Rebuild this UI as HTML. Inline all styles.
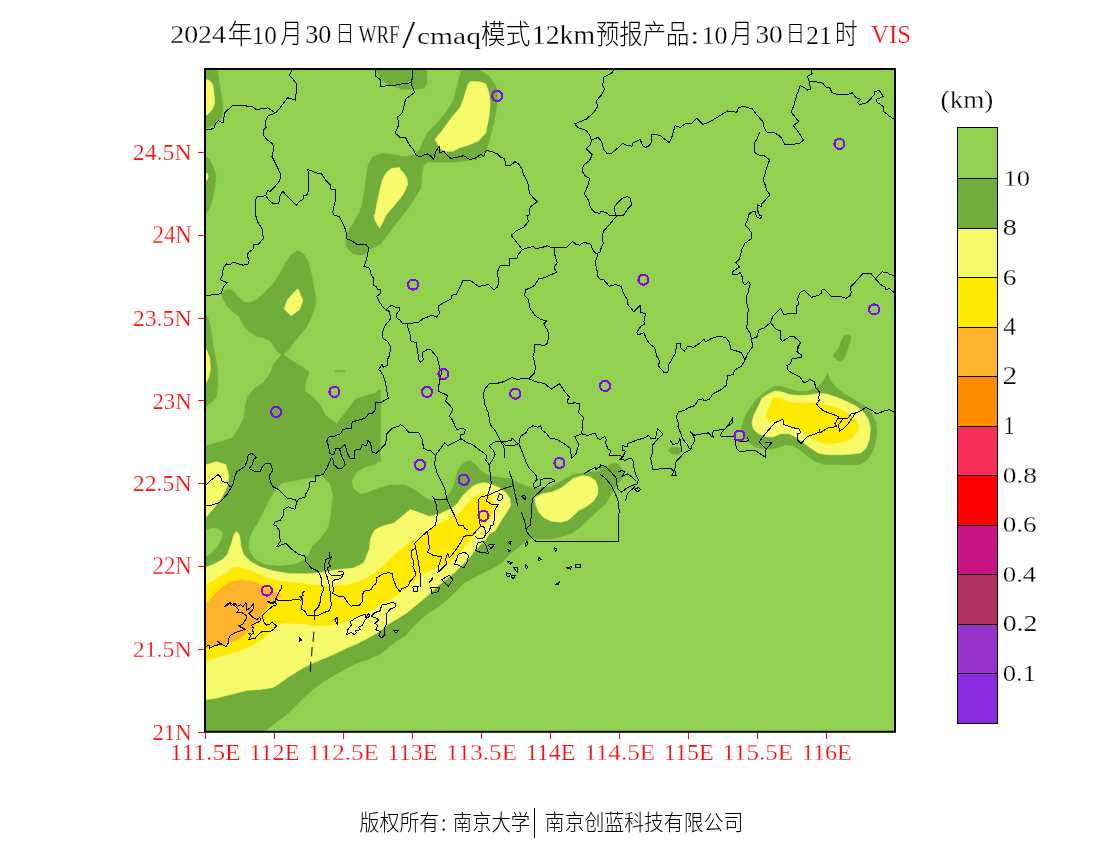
<!DOCTYPE html>
<html><head><meta charset="utf-8"><title>2024年10月30日WRF/cmaq模式12km预报产品:10月30日21时 VIS</title>
<style>
html,body{margin:0;padding:0;background:#fff;}
body{width:1100px;height:850px;overflow:hidden;}
svg{display:block;}
text{font-family:"Liberation Serif","Noto Serif CJK SC",serif;}
.cjk{font-family:"Liberation Sans","Noto Sans CJK SC",sans-serif;font-weight:300;}
</style></head><body>
<svg width="1100" height="850" viewBox="0 0 1100 850">
<rect width="1100" height="850" fill="#fff"/>
<defs><clipPath id="mapclip"><rect x="205" y="69" width="690" height="662.8"/></clipPath></defs>

<g clip-path="url(#mapclip)">
<rect x="205" y="69" width="690" height="662.8" fill="#92D050"/>
<path d="M200,60 L217.3,67.3 L218.2,76.4 L220.1,87.3 L222.2,101.9 L222.8,109.2 L221.9,116.5 L217.3,122.9 L210.9,126.5 L205.5,127.8 L200,128Z" fill="#70AD3A" stroke="#70AD3A" stroke-width="0.6" stroke-linejoin="round"/>
<path d="M200,156 L205.5,156.3 L210,160.3 L214.2,169.4 L216,176.7 L214.6,187.6 L212.8,198.6 L209.1,209.5 L205.5,214.1 L200,214Z" fill="#70AD3A" stroke="#70AD3A" stroke-width="0.6" stroke-linejoin="round"/>
<path d="M200,313 L205.5,313.5 L208.2,318.9 L210.9,328 L212.4,342.6 L214.6,353.6 L216.8,364.5 L217.3,370 L217.9,384.6 L216.4,397.3 L210.9,402.8 L205.5,406.5 L200,407Z" fill="#70AD3A" stroke="#70AD3A" stroke-width="0.6" stroke-linejoin="round"/>
<path d="M375.9,67.3 L377.8,74.6 L382.3,80.1 L387.8,84.6 L400,88.3 L400,89.2 L414.6,89.2 L423.7,88.3 L427,83.7 L427,67.3Z" fill="#70AD3A" stroke="#70AD3A" stroke-width="0.6" stroke-linejoin="round"/>
<path d="M462,67.3 L480.2,70.6 L489.3,76.4 L495.7,85.5 L497.5,96.5 L496.6,107.4 L493.9,122 L490.2,136.6 L486.6,149.3 L483.9,156.6 L472.9,159.9 L454.7,162.1 L440.1,162.1 L427.3,162.1 L423.3,165.7 L421.5,176.7 L421,187.6 L415.5,196.7 L410.9,204 L405.5,211.3 L402.7,215 L400,218.6 L396.9,222.3 L391.4,229.6 L386,236.9 L380.5,244.2 L372.3,247.8 L368.6,250.6 L365,254.2 L358.6,255.1 L353.1,253.3 L348.6,249.6 L345.9,245.1 L346.2,238.7 L349.5,228.7 L354.1,222.3 L357.7,215 L358.6,215 L362.3,204 L365,187.6 L366.8,173 L368.6,163.9 L373.2,156.6 L382.3,153.7 L400,155.5 L400,156.6 L407.3,156.6 L414.6,154.8 L420.1,149.3 L422.8,142 L427.3,132.9 L436.5,123.8 L445.6,112.9 L452.9,101.9 L456.5,89.2 L459.3,78.2Z" fill="#70AD3A" stroke="#70AD3A" stroke-width="0.6" stroke-linejoin="round"/>
<path d="M297.5,250.6 L303.9,254.2 L308.5,262.4 L311.2,273.3 L313.9,287.9 L315.8,297 L315.2,306.2 L311.2,317.1 L306.7,327.1 L299.4,335.3 L293,343.5 L289.3,349 L283,354.5 L292.8,361 L303.7,367.9 L309.2,372 L305.1,382.9 L305.1,391.1 L311.9,396.5 L320.1,404.7 L325.6,415.6 L336.5,423.8 L347.4,410.2 L355.6,399.3 L363.8,396.5 L374.7,393.3 L380.2,389.2 L380.7,404.7 L380.2,462.1 L380.7,459.1 L374.7,464.6 L363.8,467.3 L355.6,472.8 L351.5,481 L352.9,489.1 L361.1,494.6 L369.3,491.9 L380.2,487.8 L391.1,485 L404.8,485 L415.7,490.5 L426.6,498.7 L434.8,501.4 L443,498.7 L451.2,491.9 L455.3,481 L458,470 L463.4,463.2 L470.3,460.5 L474.7,463.9 L480.2,470.3 L487.5,474.8 L498.5,477.6 L509.4,478.5 L518.5,483 L527.6,486.7 L538.6,488.5 L551.3,486.7 L564.1,479.4 L575,473.9 L584.1,473 L593.3,472.1 L600,471.2 L600,464.8 L607.3,466.6 L612.8,463 L618.2,463.9 L621.9,469.4 L623.7,475.7 L620.1,481.2 L615.5,486.7 L610.9,494 L607.3,501.3 L603.6,505.8 L600,508.6 L582.3,525 L578.7,528.6 L571.4,533.2 L560.4,536.9 L549.5,538.7 L538.6,538.7 L531.3,537.8 L525.8,541.4 L518.5,546.9 L509.4,554.2 L502.1,562.4 L494.8,566.9 L483.9,572.4 L472.9,577.9 L463.8,583.3 L458.3,588.8 L451,596.1 L440.1,605.2 L429.2,612.5 L420.1,619.8 L412.8,627.1 L405.5,635.3 L396.9,640.7 L389.6,646.5 L378.7,654.7 L367.7,659.3 L356.8,662.9 L345.9,668.4 L334.9,674.8 L324,681.2 L313,689.4 L305.7,695.7 L298.5,703 L289.3,712.2 L280.2,719.4 L271.1,725.8 L262.9,734 L200,740 L200,446 L206.8,445.7 L210.9,444.3 L221.8,441.6 L232.8,437.5 L238.2,429.3 L243.7,418.4 L245,407.5 L247.8,396.5 L254.6,388.3 L262.8,382.9 L269.6,374.7 L273.7,363.8 L281.9,354.2 L277.5,351.7 L273.8,346.3 L270.2,340.8 L263.8,338.1 L256.5,336.2 L249.2,331.7 L243.8,326.2 L239.2,316.2 L232.8,311.6 L227.3,306.2 L222.8,298.9 L221.9,294.3 L224.6,290.7 L229.2,289.4 L233.7,291.6 L238.3,297 L243.8,302.1 L249.2,302.9 L256.5,299.8 L263.8,293.4 L272.9,284.3 L280.2,273.3 L285.7,262.4 L291.2,255.1Z" fill="#70AD3A" stroke="#70AD3A" stroke-width="0.6" stroke-linejoin="round"/>
<path d="M827.6,372.7 L829.4,379.1 L834.9,386.4 L844,393.7 L854.9,400.1 L864,405.6 L871.3,412.8 L875.9,422.9 L876.8,433.8 L875,444.7 L871.3,453.9 L865.9,461.2 L858.6,464.4 L847.6,464.8 L836.7,464.4 L823.9,464.4 L814.8,461.2 L807.5,455.7 L800.2,450.2 L792.9,445.7 L785.6,444.7 L778.3,447.5 L771,449.3 L761.9,448.4 L754.6,446.6 L747.3,441.1 L742.8,433.8 L741.9,426.5 L744.6,417.4 L750.1,408.3 L756.5,399.2 L765.6,391.9 L774.7,386 L782,386.4 L789.3,389.1 L798.4,391.5 L807.5,391 L816.6,388.2 L822.1,382.8 L825.7,377.3Z" fill="#70AD3A" stroke="#70AD3A" stroke-width="0.6" stroke-linejoin="round"/>
<path d="M844,335 L849.4,335.3 L850.9,337.5 L849.4,344.4 L846.7,351.7 L844,359 L841.2,361.2 L836.7,359.9 L833.4,356.3 L833.9,353.9 L837.6,349.9 L840.3,344.4 L842.5,339Z" fill="#70AD3A" stroke="#70AD3A" stroke-width="0.6" stroke-linejoin="round"/>
<path d="M668.4,450.2 L672,447.5 L678.4,447.5 L681.1,451.1 L678.4,454.2 L671.1,453.5Z" fill="#70AD3A" stroke="#70AD3A" stroke-width="0.6" stroke-linejoin="round"/>
<path d="M335,370.6 L345,370.6 L345,371.6 L335,371.6Z" fill="#70AD3A" stroke="#70AD3A" stroke-width="0.6" stroke-linejoin="round"/>
<path d="M200,530.4 L205.6,530.4 L211.3,528.5 L217,528.5 L220.5,530.5 L222.6,533.5 L220.7,539.8 L217.9,545.5 L213.2,551.1 L208.5,554.9 L205.6,555.8 L200,555.8Z" fill="#92D050" stroke="#92D050" stroke-width="0.6" stroke-linejoin="round"/>
<path d="M281.9,483.7 L295.6,481 L309.2,478.2 L322.9,476.9 L329.7,483.7 L332.4,494.6 L331,511 L328.3,527.4 L320.1,538.3 L311.9,546.5 L307.8,554.7 L303.7,560.1 L292.8,564.2 L279.2,565.6 L265.5,564.2 L254.6,558.8 L249.1,549.2 L249.1,541 L253.2,530.1 L258.7,521.9 L264.2,511 L271,497.3 L276.4,489.1Z" fill="#92D050" stroke="#92D050" stroke-width="0.6" stroke-linejoin="round"/>
<path d="M200,79 L205.5,79.7 L209.1,80.1 L212.8,84.6 L214.2,94.6 L214.6,103.8 L211.9,110.1 L207.3,114.7 L205.5,115.2 L200,115Z" fill="#F5F96A" stroke="#F5F96A" stroke-width="0.6" stroke-linejoin="round"/>
<path d="M200,172 L205.5,172.7 L207.7,173.9 L208.2,176.7 L206.9,180.3 L205.5,181.2 L200,181Z" fill="#F5F96A" stroke="#F5F96A" stroke-width="0.6" stroke-linejoin="round"/>
<path d="M200,349 L206.8,350.1 L209.6,358.3 L210.4,369.2 L208.7,377.4 L206.8,381.5 L200,381Z" fill="#F5F96A" stroke="#F5F96A" stroke-width="0.6" stroke-linejoin="round"/>
<path d="M470.2,81.5 L480.2,81.9 L485.7,83.7 L488.4,91 L490.2,101.9 L489.3,114.7 L485.7,132.9 L478.4,141.1 L469.3,144.8 L460.2,147.5 L452.9,151.2 L445.6,151.2 L441,149.3 L437.4,143.9 L435,139.3 L441.9,131.1 L451,118.3 L460.2,107.4 L463.8,98.3 L466.5,89.2 L468.4,83.7Z" fill="#F5F96A" stroke="#F5F96A" stroke-width="0.6" stroke-linejoin="round"/>
<path d="M400,167.6 L391.4,168.5 L386,173 L382.3,180.3 L379.6,191.3 L376.8,204 L375,215 L374.1,215 L375,220.5 L379.6,227.8 L383.2,221.4 L386,215 L400,198.6 L402.7,194.9 L405.5,189.4 L407.7,184 L406.9,178.5 L403.6,173 L400,169.4Z" fill="#F5F96A" stroke="#F5F96A" stroke-width="0.6" stroke-linejoin="round"/>
<path d="M297.9,288.8 L300.3,294.3 L303,300.7 L299.4,309.8 L291.2,315.8 L284.2,308.9 L287.5,299.8 L293,293.4Z" fill="#F5F96A" stroke="#F5F96A" stroke-width="0.6" stroke-linejoin="round"/>
<path d="M200,462 L206.8,464.6 L216.4,461.8 L225.9,464.6 L228.7,475.5 L227.3,486.4 L221.8,497.3 L213.7,508.3 L206.8,516.4 L200,516Z" fill="#F5F96A" stroke="#F5F96A" stroke-width="0.6" stroke-linejoin="round"/>
<path d="M200,567 L206.8,566.9 L213.7,564.2 L221.8,560.1 L227.3,554.7 L231.4,543.7 L234.1,534.2 L236.9,531.5 L239.6,535.6 L241,546.5 L243.7,554.7 L250.5,561.5 L260.1,566.9 L273.7,571 L290.1,573.8 L309.2,573.8 L322.9,572.4 L336.5,569.7 L352.9,568.3 L363.8,562.9 L369.3,549.2 L370.6,538.3 L374.7,530.1 L382.9,526 L393.8,523.3 L402,516.4 L410.2,509.6 L418.4,512.3 L429.3,516.4 L440.2,513.7 L451.2,508.3 L455,505.8 L458.5,502.3 L462.1,496.4 L468,490.5 L472.7,486.3 L478.6,483.4 L485.7,482.8 L492.8,485.1 L499.9,488.1 L505.8,492.8 L510,498.7 L510.6,505.8 L507,511.7 L502.3,518.8 L498.7,524.7 L495.2,530.7 L489.3,534.1 L485.7,539.6 L480.2,545.1 L474.7,550.5 L469.3,557.8 L462,565.1 L454.7,572.4 L445.6,579.7 L436.5,587 L429.2,594.3 L418.2,603.4 L407.3,612.5 L395.1,620.1 L387.8,624.6 L378.7,631.9 L367.7,638.3 L356.8,643.8 L345.9,648.3 L334.9,653.8 L324,658.4 L313,662.9 L303.9,667.5 L294.8,673 L287.5,677.5 L280.2,683 L272.9,687.5 L260.2,689.4 L247.4,690.3 L236.5,693 L225.5,695.7 L214.6,698.5 L205.5,699.4 L200,699Z" fill="#F5F96A" stroke="#F5F96A" stroke-width="0.6" stroke-linejoin="round"/>
<path d="M534.9,497.6 L542.2,494 L551.3,492.2 L560.4,488.5 L567.7,483 L573.2,478.5 L582.3,475.7 L589.6,476.7 L595.1,480.3 L597.8,486.7 L597.8,494 L593.3,501.3 L586,506.7 L578.7,510.4 L573.2,515.9 L567.7,520.4 L560.4,522.2 L551.3,521.3 L544,517.7 L538.6,512.2 L535.8,504.9Z" fill="#F5F96A" stroke="#F5F96A" stroke-width="0.6" stroke-linejoin="round"/>
<path d="M774.7,391 L782,391.9 L789.3,394.6 L798.4,395.5 L807.5,395.2 L816.6,393.7 L825.7,393.7 L836.7,397.3 L847.6,401.9 L856.7,406.5 L864,412.8 L868.6,420.1 L870.4,428.3 L869.5,439.3 L865.9,448.4 L860.4,453 L851.3,454.2 L840.3,454.8 L829.4,454.8 L819.4,453.5 L811.2,448.4 L803.9,442.9 L796.6,437.5 L789.3,433.8 L780.2,433.8 L772.9,437.1 L765.6,436.5 L758.3,433.8 L753.7,429.3 L751.9,422.9 L753.7,415.6 L758.3,406.5 L761.9,398.3 L767.4,394.6Z" fill="#F5F96A" stroke="#F5F96A" stroke-width="0.6" stroke-linejoin="round"/>
<path d="M200,586 L205.5,586.1 L210.9,582.4 L218.2,577.9 L227.3,572.4 L232.8,567.8 L238.3,566.9 L247.4,569.7 L258.3,574.2 L269.3,578.8 L280.2,581.5 L291.2,582.4 L302.1,583.3 L313,585.2 L324,586.1 L334.9,586.1 L345.9,585.2 L356.8,582.4 L367.7,577.9 L378.7,570.6 L387.8,561.5 L395.1,554.2 L400,550.5 L405.5,546 L411.4,542.3 L416.5,538.7 L423.8,534.3 L431,529.9 L438.3,524.8 L445.6,520.4 L452.9,516.8 L458.5,514.5 L462.1,510.6 L466.8,504.6 L472.7,498.7 L478.6,495.2 L484.6,493.4 L489.3,495.8 L492.8,501.1 L494.6,507 L492.8,512.9 L489.3,518.8 L483.9,525.5 L476.4,531 L471.7,537.5 L466.8,543.7 L462.2,550.3 L455.1,557.4 L448,563.3 L437.5,566.5 L423.9,573.8 L410.2,584.7 L396.6,595.6 L382.9,603.8 L369.3,610.6 L355.6,617.5 L342,622.9 L328.3,625.6 L314.7,625.6 L301,623.5 L283.9,622.8 L276.6,625.6 L269.3,631.9 L262,639.2 L252.9,644.7 L240.1,650.2 L229.2,653.8 L218.2,656.5 L210.9,659.3 L205.5,663.8 L200,664Z" fill="#FFE900" stroke="#FFE900" stroke-width="0.6" stroke-linejoin="round"/>
<path d="M772.9,397.7 L782,398.8 L789.3,402.8 L798.4,403.2 L807.5,402.5 L818.5,403.7 L829.4,405.6 L840.3,409.2 L849.4,414.7 L855.8,420.1 L858.9,426.5 L856.7,432.9 L851.3,438.4 L844,442 L833,443.5 L822.1,442.9 L814.8,439.3 L807.5,434.7 L800.2,430.2 L792.9,425.6 L785.6,422.9 L778.3,422 L771,421 L766.5,417.4 L767.8,411 L771,403.7Z" fill="#FFE900" stroke="#FFE900" stroke-width="0.6" stroke-linejoin="round"/>
<path d="M200,604 L206.8,603.8 L213.7,595.6 L221.8,587.4 L230,582 L241,579.8 L251.9,581.4 L262.8,586.1 L273.7,591.5 L281.9,595.6 L276.4,598.3 L269.6,603.8 L264.2,612 L258.7,620.2 L251.9,628.4 L243.7,635.2 L235.5,640.7 L227.3,643.4 L216.4,645.3 L206.8,647.5 L200,647Z" fill="#FFB22B" stroke="#FFB22B" stroke-width="0.6" stroke-linejoin="round"/>
<path d="M292.6,68.2 L289.3,75.5 L293,79.1 L296.6,83.7 L295.7,100.1 L287.5,97.7 L281.1,106.5 L275.7,112.9M275.7,112.9 L267.5,107.8 L262.9,108.9 L255.6,109.2 L252.9,107 L243.8,105.6 L232.8,105.2 L224.6,112.9 L223.3,122.9 L218.2,120.5 L215.5,123.8 L213.7,128.9 L205.5,129.3M275.7,112.9 L268.4,115.6 L265.6,121.1 L266,127.5 L263.4,130.2 L263.8,135.7 L266.5,139.3 L272.9,143.9 L273.5,149.3 L272,156.6 L276.6,165.7 L281.1,174.9 L279.3,181.2 L274.7,186.7 L270.2,191.3 L267.5,190.4 L265.6,195.8M265.6,195.8 L256.5,197.1 L255.6,200.4 L255.6,215 L255.6,215 L257.4,221.4 L262,228.7 L263.4,238.7 L258.3,244.2 L253.8,244.2 L253.8,248.7 L248.3,252.4 L247.4,256 L249.2,260.6 L247.8,264.6 L242.8,265.1 L232.8,262 L230.1,265.1 L226.4,263.9 L223.3,267.9 L222.2,275.2 L220.4,279.7 L227.3,282.8 L223.3,287 L221,293.8 L205.5,295.6M265.6,195.8 L269.3,200.4 L272.9,203.5 L278.9,203.1 L280.2,194.9 L283,191.3 L287.5,196.7 L296.3,205.3 L299.4,201.3 L303,199.5 L303.6,195.3 L307.6,194.9 L309,185.8 L307.9,169.4 L316.7,173 L321.2,173.4 L325.8,180.3 L330.4,184.9 L330.9,189.1 L335.5,189.4 L335.8,198.6 L334,205.9 L332.7,212.2 L334,215 L334,215 L339.5,216.8 L342.2,222.3 L345.9,230.5 L346.8,239.1 L351.3,240.5 L356.8,244.2 L365.9,244.5 L368.6,247.8 L367.4,256 L365.5,262.8 L363.7,266.4 L369.6,268.2 L371.4,275.2 L373.2,277.9 L373.2,285.2 L376.5,287 L377.8,289.7 L380.5,289.4 L380.1,293.8 L376.8,296.1 L378.7,300.7 L382.3,306.2 L386,309.8M375,68.2 L375.9,76.4 L380.5,79.7 L380.5,86.4 L391.4,85.5 L400,84.6 L400,84.1 L410.9,82.8 L412.8,77.3 L412.4,68.2M410.9,82.8 L411.9,85.5 L414.6,92.5 L405.5,99.2 L404,106.5 L402.2,112.9 L400,115.2 L397.8,116.9 L398.4,125.6 L395.1,132.9 L400,137.5 L400,137.5 L405.5,137.5 L408.2,143 L413.7,150.2 L416.4,155.7 L420.1,156.6 L427.3,153.9 L430.1,155.7 L433.7,159.4 L435.6,151.2 L439.2,146.6 L439.7,153 L443.8,151.2 L447.4,155.7 L451,158.5 L460.2,156.6 L463.8,155.7 L469.3,159.4 L474.7,158.5 L481.1,154.4 L483.9,156.6 L485.7,151.2 L487.5,150.6 L493,152.1 L497.5,153.9 L501.2,157.5 L504.8,158.5 L505.4,165.7 L510.3,165.7 L514.9,161.7 L518.5,163.9 L522.2,169.4 L523.1,173.9 L526.7,180.3 L528.5,185.8 L529.4,193.1 L533.1,197.6 L537.3,201.8 L530.4,206.8 L529.1,212.2 L529.4,215 L526.7,215 L528.5,221.4 L524,226.9 L516.7,230.5 L511.2,235.4 L516.7,242.3 L522.5,249.6M615.5,68.2 L610.9,73.7 L603.6,77.3 L602.7,85.5 L604.6,89.2 L601.8,94.6 L600,96.5 L596,101 L597.8,106.5 L593.3,112.9 L586,119.3 L574.7,123.8 L577.8,127.5 L586,130.2 L589.6,134.7 L591.4,140.2M591.4,140.2 L597.8,137.5 L600,139.3 L600,139.3 L601.8,142 L603.6,149.3 L607.3,153.9 L610.9,153.9 L617.3,148.4 L622.8,143.5 L627.3,145.7 L631.9,146.1 L632.8,143 L636.5,141.1 L640.1,139.3 L642.8,145.7 L645.6,147.5 L649.2,145.7 L652,141.1 L651,134.7 L660.2,135.1 L664.7,139.3 L669.3,142.6 L672,136.6 L675.1,125.6 L680.2,127.5 L685.7,123.4 L691.2,123.8 L696.6,118.3 L703,124.4 L709.4,122 L718.5,116.5 L727.6,111 L736.7,112.3 L738.6,107.4 L744,106.5 L752.2,108.9 L756.8,114.7 L763.2,122 L764.1,127.5 L766.8,132 L775,132.9 L780.5,136.6 L785.1,144.8 L791.4,144.8 L800,143 L803.5,140.2 L798.4,132 L793.3,125.6 L798.8,121.6 L794.7,116.5 L791.1,112 L793.8,105.6 L796.6,95.6 L800.2,85.5 L803.9,87.3 L807.5,90.1 L810.6,89.2 L809.3,81.9 L807.5,76.4 L812.1,73.7 L811.2,68.2M591.4,140.2 L590.5,144.8 L586.3,148.8 L592.3,154.8 L589.6,160.3 L583.2,165.7 L582.3,171.2 L585.1,175.8 L589.6,178.5 L587.8,185.8 L584.1,194 L588.7,200.4 L590.5,207.7 L595.1,212.8 L600,213.1 L600,211.3 L605.5,212.2 L609.1,215 L612.8,215.5 L617.3,215.9 L612.8,220.5 L608.2,225.9 L603.3,231.4 L602.2,237.8 L603.3,243.3 L600.9,248.7 L600,250.6 L600,252.4 L596,253.7 L593.3,250.6 L590.5,244.2 L584.1,242.3 L579.6,245.1 L575.9,244.2 L572.3,241.4 L566.8,247.5 L555,247.8 L551.3,247.8 L547.7,245.6 L544,246.9 L535.8,248.7 L533.1,246.4 L527.6,247.8 L522.5,249.6M615.5,215 L614.2,207.3 L617.3,203.1 L621.9,198.6 L627.3,196.4 L630.6,198.6 L631.4,204.9 L627.3,209.5 L623.7,215 L617.3,215.9M759.5,132.4 L756.8,139.3 L754.6,143 L754.6,152.1 L757.7,154.8 L764.1,155.7 L769.6,159.9 L766.8,167.6 L765,173.9 L763.2,179.4 L765.5,185.8 L766.8,190.4 L769.9,194.9 L765,200.4 L761.3,204 L761.7,206.8 L757.7,204.9 L757.2,209.5 L759.5,215 L761.3,215.4 L761.9,216.8 L760.1,218.3 L757.2,217.2 L756.4,215.4 L755.3,214.6 L755,211.3 L751.3,212.2 L748.6,215 L748.6,215 L747.7,219.6 L744.9,225 L748.6,228.7 L751.7,233.2 L751.3,238.7 L744.9,243.3 L742.2,248.7 L739.5,258.8 L735.8,262.8 L739.5,267 L732.7,271.5 L732.7,274.3 L737.6,274.3 L740.4,272.4 L742.2,277 L742.6,281.5 L744.9,285.2 L748.6,281.5 L750.4,284.3 L748.6,288.8 L748,293.4 L746.8,295.2 L746.8,303.4 L748.6,309.8 L747.3,314.4 L747.3,324.4 L746.2,327.1 L748.6,330.8 L750.4,333.5 L751.3,339M809.3,81.9 L816.6,81.9 L823,83.3 L825.7,87 L829.4,87.3 L832.1,92.8 L838.5,94.6 L845.8,95 L852.2,92.8 L855.8,97.4 L860.4,99.2 L857.6,102.8 L859.5,104.3 L865.9,103.4 L870.4,99.2 L874.1,94.6 L875,91.4 L879.5,90.6 L883.2,96.5 L876.8,99.2 L876.4,101.6 L883.2,106.5 L884.1,112 L889.6,116.2 L894.1,119.3M386,309.8 L391.4,305.2 L395.1,307.1 L399.1,307.6 L399.5,310.7 L396.9,313.5 L396.5,317.1 L398.7,319.8 L400,319.8 L402.2,323.5 L407.3,323.5M386,309.8 L389.6,311.6 L390.5,318.9 L386,324.4 L383.2,329.9 L382,337.2 L387.8,341.7 L390.5,347.2 L389.6,355.4 L386.9,360.9 L387.8,365.4 L383.2,367.2 L382.3,364.1 L379.6,368.1 L378.7,370 L379.6,370 L383.2,375.5 L385.6,382.8 L386.9,391.9 L388.3,398.3 L380.5,402.8 L375.9,401.9 L375.9,409.2 L372.3,413.4 L368.6,413.8 L365,418.3 L358.6,420.1 L352.2,422 L351.3,428.3 L343.1,429.3 L340.4,433.8 L334.9,436 L328.5,437.1 L326.7,441.1 L328.5,445.7 L329.8,453.9 L334,454.2 L335.8,448.4M596,253.7 L597.8,254.2 L595.1,262.4 L596.9,269.7 L597.8,276.1 L600,279.2 L600,279.2 L603.6,279.7 L609.1,286.1 L616.4,284.6 L621,286.5 L623.7,293.4 L627.3,299.8 L627,303.4 L633.7,311.6 L640.1,305.2 L640.5,312.5 L645.6,313.5 L643.8,321.7 L645.2,324 L641,326.2 L636.5,332.6 L638.3,335 L643.8,332.6 L646.5,339 L649.2,343.5 L654.7,347.7 L656.5,355.4 L659.3,360.9 L658.7,366.3 L662,370 L663.8,372.2 L667.5,372.2 L668.4,370 L668.9,364.5 L672,359 L675.7,352.6 L676.6,343.5 L680.2,343.5 L681.1,348.1 L684.2,351.4 L687.5,346.6 L693.9,347.2 L699.4,343.5 L703.9,339.3 L705.7,341.7 L711.2,338.6 L718.5,336.2 L725.8,337.5 L729.4,342.6 L730.9,349.5 L735.8,350.8 L741.3,352.6 L744,358.1 L744.6,360.9M555,247.8 L554.6,254.2 L557.2,262.4 L554.1,267.9 L556.8,272.4 L549.5,275.2 L544,277.9 L538.6,278.8 L534.9,285.2 L530.4,287.9 L525.8,289.7 L524.3,295.2 L528.5,299.8 L529.8,308 L534.9,315.3 L541.3,319.8 L546.8,320.7 L544,323.5 L545.9,328 L547.7,329.9 L548.6,337.2 L547.3,343.5 L544,345.4 L534.9,344.1 L534,353.6 L532.7,356.3 L534.9,362.7 L535.3,370 L534.9,370 L534,373.6 L528.5,378.8M522.5,249.6 L518.5,254.2 L516.7,258.4 L509.4,258.8 L509.4,265.1 L500.3,265.7 L497.5,271.5 L498.5,282.5 L497.5,287 L493.9,289.7 L488.4,284.6 L478.4,286.5 L470.2,280.3 L462.9,280.3 L460.2,287 L456.5,294.3 L452,295.2 L451,298.9 L445.6,301.6 L438.7,305.8 L439.2,313.5 L436.5,317.1 L431.9,315.3 L422.8,318.9 L418.2,322.6 L407.3,323.5M407.3,323.5 L408.2,328.9 L410,333.5 L410,340.8 L416.4,342.6 L417.3,349.9 L419.1,360.9 L421,362.3 L423.3,359.9 L422.2,352.6 L427.3,349.5 L431,349.9 L437.4,357.6 L439.2,366.3 L440.5,370 L441.6,370 L441,375.5 L439.2,382.8 L438.3,391 L443.8,393.7 L447.4,395.5 L445.6,401 L449.2,404.6 L452.9,409.2 L449.2,416.5 L451,417.8 L453.8,422.9 L456.5,429.3 L462,428.7 L465.3,429.3 L464.7,433.8 L460.2,434.7 L461.1,438.9M744.6,360.9 L741.3,366.3 L734.9,370 L734.9,370 L733.1,374.6 L727.6,375.5 L726.2,385.5 L720.3,390.1 L713,393.7 L709.4,399.2 L703.9,401 L703,398.8 L698.5,399.5 L694.8,405.6 L689.3,407.4 L683.9,410.5 L678.4,411.9 L676.2,416.5 L678.4,422.9 L678,426.5 L680.2,432 L683,439.3 L687.5,444.7 L689.3,448.4 L690.8,449.3 L692.1,444.7 L693.9,442.9 L694.4,438.4 L693,435.6 L690.2,431.6 L694.8,435.3 L703.9,433.4 L708.5,432.9 L711.2,436 L713.9,437.5 L712.1,433.8 L713.9,430.2 L724,429.8 L727.6,426.5 L732.2,422.9 L732.7,417 L731.6,420.1 L729.4,423.2 L725.8,428.3 L721.2,432.9 L720.7,436 L734,436 L734.6,436 L735.5,443.8 L736.4,448.4 L740.1,452 L751,450.2 L754.6,450.2 L765.9,457.5 L765.6,450.2 L765.6,448.4 L759.2,442 L763.8,435.6 L769.2,429.3 L774.7,422.9 L781.6,419.6 L782.9,419.2 L783.8,424.7 L792,427.4 L799.9,429.3 L800.2,432.9 L797.5,433.8 L797.5,440.2 L801.1,443.8 L803.9,440.2 L807.5,436.5 L813,434.7 L819.9,432 L819.4,429.3 L820.3,432.9 L827.6,428 L836.7,426.5 L834.9,423.8 L838.5,417.8 L843.1,418.9 L838.5,424.7 L839.4,431.1 L844,428.3 L847.6,424.7 L851.3,419.2 L855.8,412.8M765.6,442.6 L771.4,442.9 L768.3,446.6 L765.6,450.2M747.3,437.1 L748.3,440.2 L744.6,442 L740.4,441.1M744.6,360.9 L747.7,353.6 L752.8,346.3 L751.3,339 L756.8,337.2 L758.6,330.8 L759.5,329.5 L764.1,328 L770.5,322.6 L772.9,316.2 L776.5,312.5 L780.7,308.3 L783.8,314.4 L791.5,313.5 L796.6,313.1 L796.9,305.8 L798.8,304.3 L797.5,298.9 L800.2,292.5 L804.2,290.1 L811.2,297.4 L818.5,295.2 L821.2,293.4 L822.1,289.7 L824.3,289.4 L831.2,296.1 L840.3,296.1 L845.8,298.5 L849.8,296.1 L851.3,292.5 L850.4,287 L855.8,281.5 L863.1,273.3 L870.4,273 L875.5,278.8 L880.4,284.3 L885,287 L885.9,289.4 L889.6,288.8 L894.1,292.5M875.5,278.8 L882.3,271.9 L886.8,272.4 L890.5,274.8 L894.1,275.2M770.5,322.6 L775.1,328 L776.9,329.9 L780.5,330.2 L780.5,339 L782.4,341.3 L789.6,336.8 L793.3,336.2 L796.9,339 L800.6,342.6 L797.5,349.9 L796.9,352.1 L801.1,354.5 L801.5,357.2 L792,359 L790.6,363.6 L786.9,365.4 L787.8,370 L787.8,370 L792.9,373.6 L800.2,377.3 L804.2,383.1 L810.2,379.5 L814.4,381.9 L815.7,387.3 L819.9,392.8 L818.5,397.3 L819.4,400.1 L816.3,403.7 L819.4,407.4 L823.9,411 L831.2,413.8 L838.5,416.5 L839.4,418.9 L847.6,418.9 L851.3,413.8 L855.8,412.8 L860.4,411 L865.9,407.4 L871.3,410.1 L876.8,413.8 L884.1,411 L889.6,409.7 L894.1,411.9M800,343.5 L797.8,346.3 L796.9,351.7 L800,353.6M335.8,448.4 L339.5,448.4 L341.3,455.7 L344,461.2 L345.5,464.8 L342.2,468.1 L337.6,468.1 L334,464.8 L332.7,458.4 L331.3,457.5M331.3,457.5 L327.6,466.6 L323.1,474.8 L315.8,475.4 L315.2,481.2 L309.4,482.1 L309,488.5 L305.7,494 L304.8,497.6 L299.4,498.5 L296.6,502.2M296.6,502.2 L295.2,499.4 L287.5,498.5 L278.4,489.4 L272.9,486.7 L270.2,481.2 L269.3,475.7 L272.9,470.3 L270.2,463 L265.6,463 L262,467.5 L260.2,471.2 L254.7,471.2 L249.2,468.5 L252.9,463.9 L253.2,459.3 L256.5,457.5 L252,453.5 L248.3,454.8 L247,461.2 L244.7,466.6 L236.5,472.1 L234.3,478.5 L232.8,484.9 L227.3,494 L220.1,502.2 L212.8,504.9 L205.5,505.8M205.5,485.2 L210.9,480.3 L218.2,474.5 L221,477.6 L222.2,481.6 L227.3,482.7 L230.1,486.7M296.6,502.2 L294.8,509.5 L288.4,506.7 L283.9,509.5 L283,515.9 L280.2,520.4 L274.7,522.2 L273.8,525 L275.7,525 L279.3,530.5 L280.2,541.4 L276.6,546.9 L285.7,543.2 L291.2,548.7 L298.5,554.2 L304.8,556 L305.7,561.5 L311.2,567.8 L318.5,571.5 L321.2,577.9 L321.8,585.2 L324,588.8 L321.2,594.3 L320.3,601.6 L318.5,607 L314.9,610.7 L314.5,619.8M400,425.6 L392.3,428.3 L386.9,433.8 L385.6,443.8 L380.5,449.3 L375.9,453.5 L372.3,452 L370.5,442.9 L367.7,440.2 L366.8,445.7 L362.3,444.7 L360.4,449.3 L355,450.2 L354.1,458.4 L350.4,459 L347.7,453.9 L344.9,444.7 L340.4,448.4M400,424.3 L403.6,426.5 L409.1,432.9 L419.1,432.9 L421.9,438.4 L423.7,448.4 L427.3,450.2 L431,451.1 L435.6,455.3 L439.2,450.2 L444.7,442.9 L447.4,445.7 L454.7,442 L461.1,438.9M461.1,438.9 L467.5,442.9 L472.9,444.7 L478.4,449.3 L483.9,453 L486.6,455.7 L485.7,460.2 L489.3,464.8 L493,459.3 L495.2,454.8 L493,450.2 L489.3,445.7 L494.8,442 L499.4,441.1M499.4,441.1 L503.9,442 L511.2,440.2 L512.1,438.4 L516.7,442.9 L518.9,443.8 L520.3,436.5 L525.8,432.9 L528.5,428.3 L533.1,425.6 L537.6,427.4 L540.4,425.6 L542.2,430.2 L545.9,432.9 L550.4,438.4 L556.8,439.3 L564.1,443.8 L570.5,448.4 L571.4,458.4 L575.9,453.9 L578.7,444.7 L575,436.5 L581.8,433.8 L583.2,417.4 L578.7,412.8 L579.6,403.7 L575,402.8 L568.6,403.7 L566.8,401 L569.6,397.3 L565,391.9 L559.5,383.7 L551.3,389.1 L544.9,383.7 L536.7,381.9 L528.5,378.8 L516.7,379.1 L511.6,377.7 L503,381.9 L495.7,383.7 L489.3,383.7 L484.8,389.1 L483.5,394.6 L484.8,404.6 L488.4,412.8 L490.2,424.7 L494.8,430.2 L499.4,438.4 L500.3,441.1 L503.9,446.6 L504.8,457.5M581.8,433.8 L587.8,435.6 L595.1,432.9 L597.8,438.4 L600,439.3 L600,439.6 L604.6,436.5 L606.4,439.3 L605.5,442.9 L608.2,449.3 L610.9,450.2 L609.1,455.3 L620.1,455.3 L622.8,457.1 L619.7,459.3 L625.5,460.2 L630.1,457.9 L632.8,459.3 L633.7,466.6 L635.6,473.9 L638.3,479.4 L637.4,483.9 L632.8,485.2 L627.3,487.6 L621.9,492.2 L618.2,489.4 L616.4,483 L616,477.6 L610.9,472.1 L605.5,466.6 L600,464.8 L600,466.6 L596,469.4 L595.1,467.5 L589.6,470.3 L584.1,473.6M502.1,442 L505.7,445.7 L513,445.7 L518.9,443.8 L522.2,452 L525.8,461.2 L529.4,468.5 L535.8,474.8 L537.1,479.4 L533.1,483.9 L534.5,488.5 L540.4,485.2 L540.4,479.4 L545.9,478.5 L551.3,478.5 L555,480.8 L549.5,483 L544,487.6 L539.5,492.2 L534.9,495.8 L532.2,499.4 L531.6,512.2 L530.4,525 L526.5,528.4M489.3,464.8 L490.2,473.9 L491.2,483 L489.3,490.3 L487.5,495.8 L486.6,501.3 L491.2,504 L498.5,504 L494.8,510.4 L494.4,519.5 L493,525 L491.2,525 L489.3,530.5 L485.7,534.1M487.5,495.8 L494.8,492.2 L503.9,488.5 L513,485.8M509,471.2 L512.1,479.4 L513.9,488.5 L515.8,497.6 L517.6,505.8M521.2,512.2 L524,519.5 L525.8,525 L525.8,525 L525.8,528.6 L527.6,533.2 L531.3,537.4 L535.8,541.4 L618.9,541 L618.6,525 L619.1,510.4 L618.2,501.3 L615.5,494 L610.9,484.9 L605.5,478.5 L600,473.9M499.4,494 L502.1,494.9 L502.5,498.5 L500.3,500.9 L497.5,499.8 L498.5,495.8 L499.4,494M521.8,496.2 L524.9,495.4 L525.4,499.8 L521.8,496.2M435.6,455.3 L434.6,464.8 L437.4,473.9 L441,481.2 L444.7,488.5 L447,499.4 L451,508.6 L454.7,515.9 L458.3,525 L462.9,525 L464.7,528.6 L467.5,529.6M447,499.4 L435.6,499.8 L432.8,496.7 L436.5,504.9 L437.4,514 L435.6,525 L427.3,531.4M486.6,495.8 L481.1,496.7 L478.8,499.4 L478.4,514 L480.2,525 L480.2,526.8M622.8,457.1 L625.5,451.1 L622.8,450.2 L622.8,445.7 L627.3,446.6 L627.3,443.8 L636.5,440.2 L645.6,437.5 L648.3,435.3 L651,438.4 L655.6,438.9 L657.4,428.3 L662.9,434.2 L657.4,439.3 L652.9,444.7 L652.5,452 L650.7,458.4 L652,464.8 L652.9,469.4 L662,468.8 L671.1,468.5 L673.8,471.2 L672,475.4 L676.2,475.4 L674.7,469.4 L676.2,461.2 L680.2,457.5 L683.9,453 L689.3,450.2M670.2,440.2 L672.9,444.7 L678.4,442.9 L679.9,438.4 L681.1,446.6 L682,452M618.2,472.1 L621.9,470.3 L624.6,472.1 L621.9,476.7 L627.3,473.9 L632.8,477.6 L635.6,480.3M625.5,500.9 L627.3,494 L631.9,489.4 L634.6,486.7M634.6,489.4 L638.3,487.6 L640.5,489.4 L637.4,491.8 L634.6,489.4M206.2,646.5 L209.1,645.3 L209.7,648.3 L214.5,645.9 L220.4,644.1 L217.4,641.4 L222.7,644.7 L226.3,646.5 L228.6,642.4 L229.2,636.5 L233.4,633.5 L239.3,631.1 L245.2,629.4 L243.4,628.4 L239.3,626.4 L238.7,625.6 L242.8,624.6 L244.6,621.1 L246.1,618.5 L247,615.8 L244.6,614.6 L241.6,612.2 L236.9,612.8 L238.7,609.3 L235.7,606.9 L233.4,603.4 L231.6,605.7 L229.8,602.8 L226.9,605.7 L224.5,606.3 L227.5,604 L230.4,602.2 L233.4,605.1 L235.1,603.4 L237.5,606.3 L240.5,604.6 L242.8,606.9 L245.8,602.8 L247,606.9 L246.4,610.5 L248.1,609.3 L251.1,606.9 L253.5,603.4 L253.7,608.1 L251.7,611.1 L248.7,613.4 L251.1,615.8 L254.6,618.7 L257,619.3 L260,617.6 L260.6,620.5 L258.2,622.3 L254.6,623.5 L251.7,625.2 L253.5,628.2 L252.3,630.6 L254.1,632.9 L251.7,634.1 L248.7,633.5 L250.5,635.9 L248.7,639.4 L251.7,638.8 L255.2,638.2 L257.6,635.3 L260,632.9 L262.9,631.1 L266.5,631.7 L270,631.7 L273.6,629.4 L276.5,625.8 L273.6,623.5 L271.8,622.3 L269.4,624.6 L266.5,625.2 L264.1,622.3 L262.9,618.7 L262.3,615.8 L265.3,612.8 L268.8,609.3 L272.4,606.3 L275.9,605.1 L276.9,603.4 L274.7,602.8 L271.2,603.4 L267.6,601.6 L271.8,602.2 L275.3,601.6 L275.9,598 L277.7,594.5 L280.1,590.4 L281.6,588.6 L281.6,585.4M275.9,598 L277.7,600.4 L281.8,601 L287.7,600.4 L293.7,599.8 L298.4,599.2 L300.7,600.4 L301.9,598 L299.6,596.9 L303.1,595.7 L302.5,592.7 L304.3,591.5M301.9,598 L303.1,602.2 L301.3,606.3 L301.9,609.3 L305.5,611.6 L307.2,615.2 L311.4,615.8 L314.9,615.8M329.4,552.3 L329.8,557.8 L325.8,559.6 L324.3,566.9 L325.8,573.3 L327.6,577.9 L329.4,585.2 L330.4,594.3 L331.3,605.2 L329.4,610.7 L324,612.5 L318.5,615.2 L314.5,615.2M329.8,557.8 L331.3,556.9 L328.5,563.3 L330.4,566 L327.6,567.8 L328.5,572.4 L332.2,576 L340.4,575.1 L344,573.9 L342.2,570.9 L338.6,572M344,573.9 L340.4,578.8 L334.9,579.7 L332.2,581.5 L332.7,587 L334,587.9 L332.7,593.4 L338.6,596.1 L344,597 L347.7,602.5 L351.3,606.1 L359.5,605.2 L362.3,601.6 L363.2,591.5 L371.4,589.7 L373.2,585.2 L375.9,584.3 L376.5,577.9 L382.3,574.2 L387.8,572.8 L392.3,573.3 L393.3,579.7 L396.9,587.9 L400,591.5 L401.8,588.8 L408.2,586.1 L410,581.5 L416,575.1 L415.5,572.4 L412.8,566.9 L413.7,561.5 L411.3,556 L411.9,550.5 L415.5,547.8 L414.6,543.2 L420.1,537.8 L427.3,531.4 L428.8,539.6 L429.2,548.7 L427.3,552.3 L432.8,555.1 L441.9,556.9 L439.2,564.2 L437.9,572.4 L442.8,567.8 L446.5,564.2 L445.6,558.7 L447.8,553.3 L449.2,557.8 L452,555.1 L456.5,548.7 L460.2,543.2 L463.8,536.9 L467.5,535 L472.9,535 L476.6,530.5 L480.2,526.8 L483,525.9 L484.8,528.6 L485.7,534.1 L483.9,537.8 L478.4,538.7 L475.7,536.9M415.5,547.8 L417.3,556 L419.1,566.9 L420.4,576 L420.4,587M334.9,619.8 L337.6,617.1 L337.6,624.4 L334.9,619.8M299.4,638 L301.7,639.9 L299.4,641.7 L299.4,638M393.3,630.4 L398.7,630.4 L396,632.6 L393.3,630.4M346.8,634.4 L347.7,629.8 L351.3,625.3 L350.4,621.6 L355.9,618 L359.5,616.2 L365,614.3 L365.9,618 L368.6,613.4 L369.6,616.2 L365,619.8 L362.3,625.3 L358.6,627.1 L360.4,629.8 L355,630.7 L356.8,632.6 L354.1,634.4 L351.3,632.6 L346.8,634.4M371.4,616.2 L375,612.5 L380.5,610.7 L381.4,605.2 L386,604.3 L391.4,602.5 L396,603.4 L395.1,607 L390.5,608.9 L386,614.3 L386.9,619.8 L386,625.3 L384.1,628.9 L385.1,634.4 L381.4,638 L378.7,635.3 L380.5,631.7 L375.9,629.8 L377.8,625.3 L375,623.5 L378.7,619.8 L375.9,618 L371.4,616.2M458.3,554.2 L464.7,552.3 L468.4,555.1 L467.5,561.5 L463.8,567.8 L458.3,565.1 L454.7,564.2 L458.3,554.2M477.5,543.2 L483,541.4 L485.7,545.1 L488.4,553.3 L480.2,552.3 L475.7,550.5 L477.5,543.2M488.4,545.1 L494.8,544.1 L491.2,548.7 L488.4,545.1M441.9,579.7 L449.2,575.1 L452.9,579.7 L448.3,586.1 L441.9,579.7M430.6,587 L439.2,587.9 L438.3,591.5 L431.9,593.4 L430.6,587M412.8,587 L418.2,586.1 L417.3,591.5 L413.7,591.5 L412.8,587M429.2,582.4 L432.8,577 L431.9,580.6 L429.2,582.4M508.5,542.3 L511.2,541.4 L510.3,544.1 L508.5,542.3M507.6,549.6 L510.3,550.5 L509.4,552 L507.6,549.6M524.9,544.1 L527.1,541.4 L527.6,544.1 L525.8,546.5 L524.9,544.1M507.6,561.5 L512.1,562.4 L510.3,564.2 L507.6,561.5M513.9,567.8 L517.6,567.3 L517.2,572.4 L513.9,567.8M525.4,564.2 L527.6,566.9 L526.2,568.8 L525.4,564.2M506.3,572.8 L510.3,573.9 L509.4,577 L506.7,576 L506.3,572.8M510.8,576 L515.2,575.7 L513,578.8 L510.8,576M538.6,557.5 L541.3,559.3 L538.9,560.6 L538.6,557.5M554.1,547.8 L556.4,548.7 L555.9,551.4 L554.1,547.8M566.8,567.8 L571.4,566.6 L570.5,569.3 L566.8,567.8M575,564.7 L580.5,564.2 L580.1,567.3 L575.4,567.5 L575,564.7M555,584.8 L559.5,581.9 L558.2,584.8 L555,584.8" fill="none" stroke="#000" stroke-width="1" stroke-linejoin="round" stroke-linecap="round" shape-rendering="crispEdges"/>
<path d="M313.9,631.7 L313,641.7M312.1,647.2 L311.6,656.3M310.8,661.7 L310.3,671.8" fill="none" stroke="#000" stroke-width="1"/>
<circle cx="497.2" cy="95.9" r="5" fill="none" stroke="#8208F0" stroke-width="2.2" shape-rendering="crispEdges"/>
<circle cx="839.4" cy="143.9" r="5" fill="none" stroke="#8208F0" stroke-width="2.2" shape-rendering="crispEdges"/>
<circle cx="413.1" cy="284.6" r="5" fill="none" stroke="#8208F0" stroke-width="2.2" shape-rendering="crispEdges"/>
<circle cx="643.4" cy="279.7" r="5" fill="none" stroke="#8208F0" stroke-width="2.2" shape-rendering="crispEdges"/>
<circle cx="874.1" cy="309.4" r="5" fill="none" stroke="#8208F0" stroke-width="2.2" shape-rendering="crispEdges"/>
<circle cx="276.2" cy="411.9" r="5" fill="none" stroke="#8208F0" stroke-width="2.2" shape-rendering="crispEdges"/>
<circle cx="334.4" cy="391.9" r="5" fill="none" stroke="#8208F0" stroke-width="2.2" shape-rendering="crispEdges"/>
<circle cx="443.4" cy="374" r="5" fill="none" stroke="#8208F0" stroke-width="2.2" shape-rendering="crispEdges"/>
<circle cx="427" cy="391.9" r="5" fill="none" stroke="#8208F0" stroke-width="2.2" shape-rendering="crispEdges"/>
<circle cx="515.2" cy="393.7" r="5" fill="none" stroke="#8208F0" stroke-width="2.2" shape-rendering="crispEdges"/>
<circle cx="420" cy="464.8" r="5" fill="none" stroke="#8208F0" stroke-width="2.2" shape-rendering="crispEdges"/>
<circle cx="463.8" cy="479.8" r="5" fill="none" stroke="#8208F0" stroke-width="2.2" shape-rendering="crispEdges"/>
<circle cx="559.5" cy="463" r="5" fill="none" stroke="#8208F0" stroke-width="2.2" shape-rendering="crispEdges"/>
<circle cx="483.5" cy="515.9" r="5" fill="none" stroke="#8208F0" stroke-width="2.2" shape-rendering="crispEdges"/>
<circle cx="605.1" cy="385.9" r="5" fill="none" stroke="#8208F0" stroke-width="2.2" shape-rendering="crispEdges"/>
<circle cx="739.4" cy="435.6" r="5" fill="none" stroke="#8208F0" stroke-width="2.2" shape-rendering="crispEdges"/>
<circle cx="266.9" cy="590.6" r="5" fill="none" stroke="#8208F0" stroke-width="2.2" shape-rendering="crispEdges"/>
</g>
<rect x="205" y="69" width="690" height="662.8" fill="none" stroke="#000" stroke-width="2"/>
<line x1="198" y1="732.2" x2="204" y2="732.2" stroke="#FF0A0A" stroke-width="1" shape-rendering="crispEdges"/>
<line x1="198" y1="649.37" x2="204" y2="649.37" stroke="#FF0A0A" stroke-width="1" shape-rendering="crispEdges"/>
<line x1="198" y1="566.54" x2="204" y2="566.54" stroke="#FF0A0A" stroke-width="1" shape-rendering="crispEdges"/>
<line x1="198" y1="483.71" x2="204" y2="483.71" stroke="#FF0A0A" stroke-width="1" shape-rendering="crispEdges"/>
<line x1="198" y1="400.88" x2="204" y2="400.88" stroke="#FF0A0A" stroke-width="1" shape-rendering="crispEdges"/>
<line x1="198" y1="318.05" x2="204" y2="318.05" stroke="#FF0A0A" stroke-width="1" shape-rendering="crispEdges"/>
<line x1="198" y1="235.22" x2="204" y2="235.22" stroke="#FF0A0A" stroke-width="1" shape-rendering="crispEdges"/>
<line x1="198" y1="152.39" x2="204" y2="152.39" stroke="#FF0A0A" stroke-width="1" shape-rendering="crispEdges"/>
<line x1="205.1" y1="732.5" x2="205.1" y2="738.5" stroke="#FF0A0A" stroke-width="1" shape-rendering="crispEdges"/>
<line x1="274.15" y1="732.5" x2="274.15" y2="738.5" stroke="#FF0A0A" stroke-width="1" shape-rendering="crispEdges"/>
<line x1="343.2" y1="732.5" x2="343.2" y2="738.5" stroke="#FF0A0A" stroke-width="1" shape-rendering="crispEdges"/>
<line x1="412.25" y1="732.5" x2="412.25" y2="738.5" stroke="#FF0A0A" stroke-width="1" shape-rendering="crispEdges"/>
<line x1="481.3" y1="732.5" x2="481.3" y2="738.5" stroke="#FF0A0A" stroke-width="1" shape-rendering="crispEdges"/>
<line x1="550.35" y1="732.5" x2="550.35" y2="738.5" stroke="#FF0A0A" stroke-width="1" shape-rendering="crispEdges"/>
<line x1="619.4" y1="732.5" x2="619.4" y2="738.5" stroke="#FF0A0A" stroke-width="1" shape-rendering="crispEdges"/>
<line x1="688.45" y1="732.5" x2="688.45" y2="738.5" stroke="#FF0A0A" stroke-width="1" shape-rendering="crispEdges"/>
<line x1="757.5" y1="732.5" x2="757.5" y2="738.5" stroke="#FF0A0A" stroke-width="1" shape-rendering="crispEdges"/>
<line x1="826.55" y1="732.5" x2="826.55" y2="738.5" stroke="#FF0A0A" stroke-width="1" shape-rendering="crispEdges"/>
<rect x="957.5" y="127.5" width="40.0" height="51" fill="#92D050" stroke="#000" stroke-width="1" shape-rendering="crispEdges"/>
<rect x="957.5" y="178.5" width="40.0" height="49.5" fill="#70AD3A" stroke="#000" stroke-width="1" shape-rendering="crispEdges"/>
<rect x="957.5" y="228" width="40.0" height="49.5" fill="#F5F96A" stroke="#000" stroke-width="1" shape-rendering="crispEdges"/>
<rect x="957.5" y="277.5" width="40.0" height="49.5" fill="#FFE900" stroke="#000" stroke-width="1" shape-rendering="crispEdges"/>
<rect x="957.5" y="327" width="40.0" height="49.5" fill="#FFB22B" stroke="#000" stroke-width="1" shape-rendering="crispEdges"/>
<rect x="957.5" y="376.5" width="40.0" height="49.5" fill="#FF8C00" stroke="#000" stroke-width="1" shape-rendering="crispEdges"/>
<rect x="957.5" y="426" width="40.0" height="49.5" fill="#F82D5A" stroke="#000" stroke-width="1" shape-rendering="crispEdges"/>
<rect x="957.5" y="475.5" width="40.0" height="49.5" fill="#FF0000" stroke="#000" stroke-width="1" shape-rendering="crispEdges"/>
<rect x="957.5" y="525" width="40.0" height="49.5" fill="#C71585" stroke="#000" stroke-width="1" shape-rendering="crispEdges"/>
<rect x="957.5" y="574.5" width="40.0" height="49.5" fill="#B03060" stroke="#000" stroke-width="1" shape-rendering="crispEdges"/>
<rect x="957.5" y="624" width="40.0" height="49.5" fill="#9932CC" stroke="#000" stroke-width="1" shape-rendering="crispEdges"/>
<rect x="957.5" y="673.5" width="40.0" height="49.5" fill="#8A2BE2" stroke="#000" stroke-width="1" shape-rendering="crispEdges"/>
<line x1="534.5" y1="808" x2="534.5" y2="837.5" stroke="#000" stroke-width="1" shape-rendering="crispEdges"/>
<text transform="translate(152.49,740.10) scale(0.957,1)" font-size="23.79" fill="#FF0A0A" stroke="#fff" stroke-width="0.25">21N</text>
<text transform="translate(132.75,657.04) scale(1.018,1)" font-size="23.43" fill="#FF0A0A" stroke="#fff" stroke-width="0.25">21.5N</text>
<text transform="translate(152.49,574.44) scale(0.943,1)" font-size="24.15" fill="#FF0A0A" stroke="#fff" stroke-width="0.25">22N</text>
<text transform="translate(132.75,491.37) scale(1.003,1)" font-size="23.79" fill="#FF0A0A" stroke="#fff" stroke-width="0.25">22.5N</text>
<text transform="translate(152.49,408.54) scale(0.957,1)" font-size="23.79" fill="#FF0A0A" stroke="#fff" stroke-width="0.25">23N</text>
<text transform="translate(132.75,325.71) scale(1.003,1)" font-size="23.79" fill="#FF0A0A" stroke="#fff" stroke-width="0.25">23.5N</text>
<text transform="translate(152.49,243.12) scale(0.943,1)" font-size="24.15" fill="#FF0A0A" stroke="#fff" stroke-width="0.25">24N</text>
<text transform="translate(132.75,160.05) scale(1.003,1)" font-size="23.79" fill="#FF0A0A" stroke="#fff" stroke-width="0.25">24.5N</text>
<text transform="translate(169.81,759.77) scale(1.092,1)" font-size="23.28" fill="#FF0A0A" stroke="#fff" stroke-width="0.25">111.5E</text>
<text transform="translate(249.43,760.00) scale(1.019,1)" font-size="23.64" fill="#FF0A0A" stroke="#fff" stroke-width="0.25">112E</text>
<text transform="translate(307.94,759.77) scale(1.080,1)" font-size="23.28" fill="#FF0A0A" stroke="#fff" stroke-width="0.25">112.5E</text>
<text transform="translate(387.53,759.77) scale(1.035,1)" font-size="23.28" fill="#FF0A0A" stroke="#fff" stroke-width="0.25">113E</text>
<text transform="translate(446.04,759.77) scale(1.080,1)" font-size="23.28" fill="#FF0A0A" stroke="#fff" stroke-width="0.25">113.5E</text>
<text transform="translate(525.63,760.00) scale(1.019,1)" font-size="23.64" fill="#FF0A0A" stroke="#fff" stroke-width="0.25">114E</text>
<text transform="translate(584.14,759.77) scale(1.080,1)" font-size="23.28" fill="#FF0A0A" stroke="#fff" stroke-width="0.25">114.5E</text>
<text transform="translate(663.73,759.77) scale(1.035,1)" font-size="23.28" fill="#FF0A0A" stroke="#fff" stroke-width="0.25">115E</text>
<text transform="translate(722.24,759.77) scale(1.080,1)" font-size="23.28" fill="#FF0A0A" stroke="#fff" stroke-width="0.25">115.5E</text>
<text transform="translate(801.83,759.54) scale(1.050,1)" font-size="22.94" fill="#FF0A0A" stroke="#fff" stroke-width="0.25">116E</text>
<text transform="translate(1003.51,185.73) scale(1.128,1)" font-size="23.53" fill="#000" stroke="#fff" stroke-width="0.25">10</text>
<text transform="translate(1002.68,235.22) scale(1.176,1)" font-size="23.88" fill="#000" stroke="#fff" stroke-width="0.25">8</text>
<text transform="translate(1002.70,284.72) scale(1.149,1)" font-size="23.88" fill="#000" stroke="#fff" stroke-width="0.25">6</text>
<text transform="translate(1003.29,334.70) scale(1.042,1)" font-size="24.62" fill="#000" stroke="#fff" stroke-width="0.25">4</text>
<text transform="translate(1002.62,384.20) scale(1.198,1)" font-size="24.62" fill="#000" stroke="#fff" stroke-width="0.25">2</text>
<text transform="translate(1003.77,433.70) scale(0.884,1)" font-size="24.24" fill="#000" stroke="#fff" stroke-width="0.25">1</text>
<text transform="translate(1002.71,482.72) scale(1.145,1)" font-size="23.88" fill="#000" stroke="#fff" stroke-width="0.25">0.8</text>
<text transform="translate(1002.72,532.22) scale(1.136,1)" font-size="23.88" fill="#000" stroke="#fff" stroke-width="0.25">0.6</text>
<text transform="translate(1002.72,581.72) scale(1.126,1)" font-size="23.88" fill="#000" stroke="#fff" stroke-width="0.25">0.4</text>
<text transform="translate(1002.69,631.22) scale(1.165,1)" font-size="23.88" fill="#000" stroke="#fff" stroke-width="0.25">0.2</text>
<text transform="translate(1002.73,680.73) scale(1.135,1)" font-size="23.53" fill="#000" stroke="#fff" stroke-width="0.25">0.1</text>
<text transform="translate(940.62,108.02) scale(1.099,1)" font-size="24.67" fill="#000" stroke="#fff" stroke-width="0.25">(km)</text>
<text transform="translate(170.18,43.49) scale(1.101,1)" font-size="25.37" fill="#000" stroke="#fff" stroke-width="0.25">2024</text>
<text class="cjk" transform="translate(227.66,43.98) scale(0.894,1)" font-size="27.72" fill="#000">年</text>
<text transform="translate(251.72,43.50) scale(1.011,1)" font-size="25.00" fill="#000" stroke="#fff" stroke-width="0.25">10</text>
<text class="cjk" transform="translate(280.21,43.01) scale(0.829,1)" font-size="26.94" fill="#000">月</text>
<text transform="translate(305.29,43.49) scale(1.031,1)" font-size="25.37" fill="#000" stroke="#fff" stroke-width="0.25">30</text>
<text class="cjk" transform="translate(335.35,40.86) scale(0.872,1)" font-size="22.02" fill="#000">日</text>
<text transform="translate(358.50,43.49) scale(0.748,1)" font-size="25.37" fill="#000" stroke="#fff" stroke-width="0.25">WRF</text>
<text transform="translate(402.20,48.19) scale(1.139,1)" font-size="41.06" fill="#000" stroke="#fff" stroke-width="0.25">/</text>
<text transform="translate(416.92,44.05) scale(1.231,1)" font-size="24.06" fill="#000" stroke="#fff" stroke-width="0.25">cmaq</text>
<text class="cjk" transform="translate(481.12,43.98) scale(0.885,1)" font-size="27.72" fill="#000">模式</text>
<text transform="translate(531.80,44.00) scale(1.042,1)" font-size="26.67" fill="#000" stroke="#fff" stroke-width="0.25">12km</text>
<text class="cjk" transform="translate(596.07,43.62) scale(0.854,1)" font-size="27.28" fill="#000">预报产品</text>
<text transform="translate(690.20,43.74) scale(1.248,1)" font-size="26.04" fill="#000" stroke="#fff" stroke-width="0.25">:</text>
<text transform="translate(701.67,43.50) scale(1.034,1)" font-size="25.00" fill="#000" stroke="#fff" stroke-width="0.25">10</text>
<text class="cjk" transform="translate(730.51,43.01) scale(0.824,1)" font-size="26.94" fill="#000">月</text>
<text transform="translate(755.44,43.49) scale(1.074,1)" font-size="25.37" fill="#000" stroke="#fff" stroke-width="0.25">30</text>
<text class="cjk" transform="translate(785.65,40.86) scale(0.872,1)" font-size="22.02" fill="#000">日</text>
<text transform="translate(806.06,44.00) scale(1.005,1)" font-size="25.76" fill="#000" stroke="#fff" stroke-width="0.25">21</text>
<text class="cjk" transform="translate(834.96,44.22) scale(0.799,1)" font-size="28.33" fill="#000">时</text>
<text transform="translate(871.05,43.49) scale(0.978,1)" font-size="25.37" fill="#FF0A0A" stroke="#fff" stroke-width="0.25">VIS</text>
<text class="cjk" transform="translate(359.60,829.70) scale(0.936,1)" font-size="21.30" fill="#000">版权所有</text>
<text transform="translate(440.67,830.75) scale(0.867,1)" font-size="25.00" fill="#000" stroke="#fff" stroke-width="0.25">:</text>
<text class="cjk" transform="translate(452.84,829.71) scale(0.917,1)" font-size="21.08" fill="#000">南京大学</text>
<text class="cjk" transform="translate(544.81,829.70) scale(0.932,1)" font-size="21.30" fill="#000">南京创蓝科技有限公司</text>
</svg></body></html>
